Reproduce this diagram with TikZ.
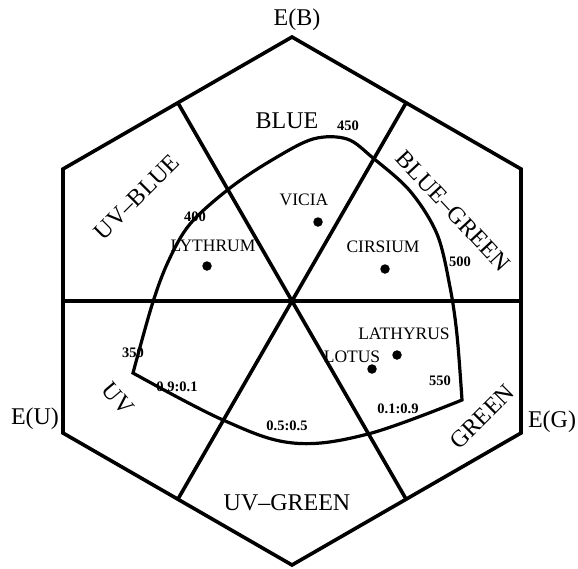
\documentclass[tikz,border=0pt]{standalone}
\usepackage{fontspec}
\setmainfont{Liberation Serif}
\begin{document}
\begin{tikzpicture}[x=1pt,y=-1pt,
  edge/.style={line width=3.6pt, line join=miter},
  locus/.style={line width=3.2pt, line join=miter},
  sector/.style={font=\fontsize{24}{24}\selectfont, inner sep=0pt},
  axislab/.style={font=\fontsize{24}{24}\selectfont, inner sep=0pt},
  nm/.style={font=\bfseries\fontsize{14.5}{14.5}\selectfont, inner sep=0pt},
  sp/.style={font=\fontsize{17.5}{17.5}\selectfont, inner sep=0pt},
  dot/.style={circle, fill, inner sep=0pt, minimum size=9.5pt}]
\useasboundingbox (0,0) rectangle (578,568);
% hexagon
\coordinate (C) at (292,301);
\coordinate (T) at (292,37);
\coordinate (UR) at (521,169);
\coordinate (LR) at (521,433);
\coordinate (B) at (292,565);
\coordinate (LL) at (63,433);
\coordinate (UL) at (63,169);
\coordinate (M0) at (521,301);
\coordinate (M60) at (406,103);
\coordinate (M120) at (178,103);
\coordinate (M180) at (63,301);
\coordinate (M240) at (178,499);
\coordinate (M300) at (406,499);
\draw[edge] (T) -- (UR) -- (LR) -- (B) -- (LL) -- (UL) -- cycle;
\draw[edge] (M180) -- (M0);
\draw[edge] (M120) -- (M300);
\draw[edge] (M60) -- (M240);
% spectral locus
\draw[locus] plot[smooth, tension=0.55] coordinates {(133,373) (152,305) (168,262) (190,224) (230,188) (272,160) (313,139) (347,139) (373,158) (410,191) (437,234) (450,287) (457,335) (462,400)}
  -- plot[smooth, tension=0.6] coordinates {(462,400) (368,434) (293,443) (223,420) (133,373)} -- cycle;
% axis labels
\node[axislab] (eb) at (297,20) {E(B)};
\node[axislab] (eu) at (35,419) {E(U)};
\node[axislab] (eg) at (552,422) {E(G)};
% sector labels
\node[sector] (blue) at (287,121) {BLUE};
\node[sector, rotate=-47] (bg) at (453,211) {BLUE--GREEN};
\node[sector, rotate=45] (green) at (482,417) {GREEN};
\node[sector] (uvg) at (287,503) {UV--GREEN};
\node[sector, rotate=-50] (uv) at (118,399) {UV};
\node[sector, rotate=45] (uvb) at (137,197) {UV--BLUE};
% wavelengths and ratios
\node[nm] (n450) at (348,126) {450};
\node[nm] (n400) at (195,217) {400};
\node[nm] (n500) at (460,262) {500};
\node[nm] (n350) at (133,353) {350};
\node[nm] (n550) at (440,381) {550};
\node[nm] (r91) at (177,387) {0.9:0.1};
\node[nm] (r55) at (287,426) {0.5:0.5};
\node[nm] (r19) at (398,409) {0.1:0.9};
% species
\node[dot] (vicia) at (318,222) {};
\node[sp] (viciaL) at (304,200) {VICIA};
\node[dot] (lyth) at (207,266) {};
\node[sp] (lythL) at (213,246) {LYTHRUM};
\node[dot] (cirs) at (385,269) {};
\node[sp] (cirsL) at (383,247) {CIRSIUM};
\node[dot] (lath) at (397,355) {};
\node[sp] (lathL) at (404,334) {LATHYRUS};
\node[dot] (lotus) at (372,369) {};
\node[sp] (lotusL) at (352,357) {LOTUS};
\end{tikzpicture}
\end{document}
